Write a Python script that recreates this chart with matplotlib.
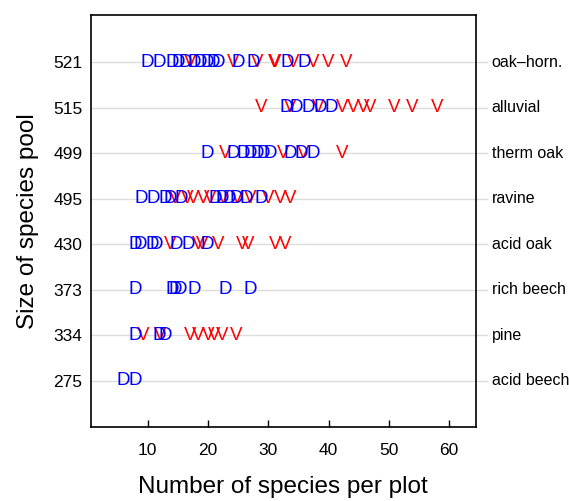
import numpy as np
import matplotlib.pyplot as plt
from matplotlib.transforms import blended_transform_factory

plt.rcParams['font.family'] = ['Liberation Sans', 'DejaVu Sans']

# forest types ordered by size of species pool (bottom -> top)
pools = [275, 334, 373, 430, 495, 499, 515, 521]
forest = ['acid beech', 'pine', 'rich beech', 'acid oak', 'ravine',
          'therm oak', 'alluvial', 'oak\u2013horn.']

# species per plot, "D" plots (blue) and "V" plots (red) for each forest type
D_plots = [
    [6.0, 7.9],
    [8.0, 12.0, 12.9],
    [8.0, 14.0, 14.5, 15.4, 17.8, 22.8, 27.0],
    [7.9, 8.7, 10.7, 11.5, 14.8, 16.7, 19.8],
    [9.0, 10.9, 12.9, 13.7, 15.6, 21.2, 22.3, 23.6, 24.7, 26.4, 28.9],
    [19.9, 24.2, 25.9, 27.0, 28.1, 29.2, 30.3, 33.6, 35.5, 37.5],
    [32.9, 34.7, 36.6, 38.6, 40.5],
    [9.9, 11.9, 14.1, 15.1, 16.3, 17.7, 18.7, 19.8, 20.8, 21.7, 25.1, 27.5,
     33.1, 35.9],
]
V_plots = [
    [],
    [9.3, 12.0, 17.0, 18.4, 20.0, 21.1, 22.3, 24.7],
    [],
    [13.7, 18.4, 19.0, 21.7, 25.6, 26.7, 31.1, 32.8],
    [14.5, 16.5, 17.6, 19.2, 20.4, 22.6, 24.9, 27.0, 30.0, 31.9, 33.6],
    [22.8, 32.4, 35.8, 42.2],
    [28.9, 33.6, 38.3, 42.2, 44.1, 45.7, 46.9, 50.8, 53.8, 58.0],
    [17.0, 24.1, 28.1, 30.9, 31.2, 34.2, 37.4, 39.9, 42.9],
]

fig = plt.figure(figsize=(5.69, 5.01), dpi=100)
ax = fig.add_axes([0.1594, 0.147, 0.6766, 0.8225])

ax.set_xlim(0.55, 64.4)
ax.set_ylim(-0.02, 9.03)

rows = np.arange(1, len(pools) + 1)

# light grid lines running out past the right border towards the labels
edge = blended_transform_factory(ax.transAxes, ax.transData)
for r in rows:
    ax.plot([0, 1.029], [r, r], color='#dcdcdc', lw=1, transform=edge,
            clip_on=False, zorder=0)

for r, vals in zip(rows, V_plots):
    for v in vals:
        ax.text(v, r, 'V', color='#ff0000', fontsize=13.5, ha='center',
                va='center', zorder=2)
for r, vals in zip(rows, D_plots):
    for v in vals:
        ax.text(v, r, 'D', color='#0000ff', fontsize=13.5, ha='center',
                va='center', zorder=3)

for r, name in zip(rows, forest):
    ax.text(1.0416, r, name, transform=edge, fontsize=11.5, ha='left',
            va='center')

ax.set_yticks(rows)
ax.set_yticklabels([str(p) for p in pools])
ax.tick_params(axis='y', length=0, pad=6, labelsize=12.5)
ax.set_xticks([10, 20, 30, 40, 50, 60])
ax.tick_params(axis='x', direction='in', length=5, width=1, pad=11,
               labelsize=12.5)

for s in ax.spines.values():
    s.set_linewidth(1.2)

ax.set_xlabel('Number of species per plot', fontsize=17.5, labelpad=13)
ax.set_ylabel('Size of species pool', fontsize=17.5, labelpad=10)

fig.savefig('out.png', dpi=100)
